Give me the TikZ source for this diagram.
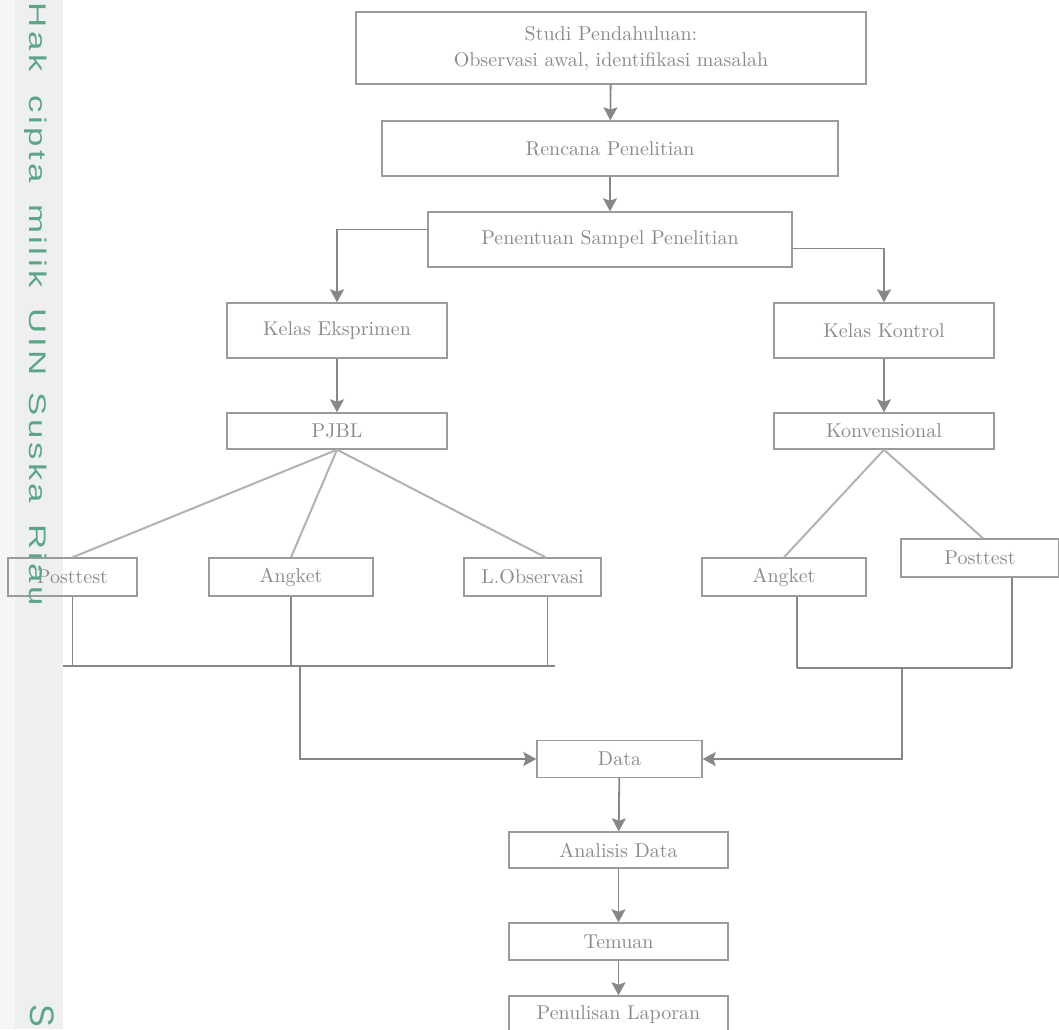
\documentclass[tikz,border=0pt]{standalone}
\usepackage{fontspec}
\newfontfamily\sideFont[LetterSpace=10]{Liberation Sans}
\usetikzlibrary{arrows.meta, positioning, calc}
\definecolor{boxgray}{RGB}{155,155,155}
\definecolor{txtgray}{RGB}{138,138,138}
\definecolor{arrgray}{RGB}{135,135,135}
\definecolor{leafgray}{RGB}{178,178,178}
\definecolor{stripgray}{RGB}{238,239,241}
\definecolor{stripedge}{RGB}{246,246,247}
\definecolor{suskagreen}{RGB}{92,165,135}
\newcommand{\sidetext}[1]{\scalebox{1.45}[1]{#1}}

\begin{document}
\begin{tikzpicture}[x=0.5pt, y=-0.5pt]
            \tikzstyle{block} = [rectangle, draw=boxgray, line width=0.7pt, text=txtgray, inner sep=0pt, align=center, font=\fontsize{10}{13}\selectfont]
            \tikzstyle{arrow} = [line width=0.9pt, arrgray, -{Stealth[length=6.5pt, width=7pt, inset=1.2pt]}]
            \tikzstyle{link} = [line width=0.65pt, arrgray]
            \tikzstyle{leaf} = [line width=1pt, leafgray]
            \tikzstyle{vtext} = [rotate=-90, anchor=base, inner sep=0pt, text=suskagreen, font=\sideFont\fontsize{12}{12}\selectfont]

            \useasboundingbox (0,0) rectangle (1059,1029);
            \clip (0,0) rectangle (1059,1029);
            \fill[stripgray] (0,0) rectangle (63,1029);
            \fill[stripedge] (0,0) rectangle (15,1029);

            % alur utama
            \node[block, minimum width=255pt, minimum height=36pt] (studi) at (611,48) {Studi Pendahuluan:\\Observasi awal, identifikasi masalah};
            \node[block, minimum width=228pt, minimum height=27.5pt] (rencana) at (610,148.5) {Rencana Penelitian};
            \node[block, minimum width=182pt, minimum height=27.5pt] (sampel) at (610,239.5) {Penentuan Sampel Penelitian};
            \node[block, minimum width=110pt, minimum height=27.5pt] (eksp) at (337,330.5) {Kelas Eksprimen};
            \node[block, minimum width=110pt, minimum height=27.5pt] (kontrol) at (884,330.5) {Kelas Kontrol};
            \node[block, minimum width=110pt, minimum height=18pt] (pjbl) at (337,431) {PJBL};
            \node[block, minimum width=110pt, minimum height=18pt] (konv) at (884,431) {Konvensional};

            % instrumen
            \node[block, minimum width=64.5pt, minimum height=19pt] (postE) at (72.5,577) {Posttest};
            \node[block, minimum width=82pt, minimum height=19pt] (angE) at (291,577) {Angket};
            \node[block, minimum width=68.5pt, minimum height=19pt] (obsE) at (532.5,577) {L.Observasi};
            \node[block, minimum width=82pt, minimum height=19pt] (angK) at (784,577) {Angket};
            \node[block, minimum width=79pt, minimum height=19pt] (postK) at (980,558) {Posttest};

            \node[block, minimum width=82.5pt, minimum height=18.5pt] (data) at (619.5,759) {Data};
            \node[block, minimum width=109.5pt, minimum height=18pt] (analisis) at (618.5,850) {Analisis Data};
            \node[block, minimum width=109.5pt, minimum height=18.5pt] (temuan) at (618.5,941.5) {Temuan};
            \node[block, minimum width=109.5pt, minimum height=18.5pt] (laporan) at (618.5,1014.5) {Penulisan Laporan};

            \coordinate (jl) at (300,666);
            \coordinate (jr) at (902,668);

            \draw[arrow] (studi) -- (rencana);
            \draw[arrow] (rencana) -- (sampel);
            \draw[arrow] ($(sampel.west)+(0,-10)$) -| (eksp.north);
            \draw[arrow] ($(sampel.east)+(0,9)$) -| (kontrol.north);
            \draw[arrow] (eksp) -- (pjbl);
            \draw[arrow] (kontrol) -- (konv);

            \draw[leaf] (pjbl.south) -- (postE.north);
            \draw[leaf] (pjbl.south) -- (angE.north);
            \draw[leaf] (pjbl.south) -- ($(obsE.north)+(13,0)$);
            \draw[leaf] (konv.south) -- (angK.north);
            \draw[leaf] (konv.south) -- ($(postK.north)+(3,0)$);

            \draw[link] (postE.south) -- (postE.south |- jl);
            \draw[link] (angE.south) -- (angE.south |- jl);
            \draw[link] ($(obsE.south)+(15,0)$) -- ($(obsE.south |- jl)+(15,0)$);
            \draw[link] ($(jl)+(-237,0)$) -- ($(jl)+(255,0)$);
            \draw[link] ($(angK.south)+(13,0)$) -- ($(angK.south |- jr)+(13,0)$);
            \draw[link] ($(postK.south)+(32,0)$) -- ($(postK.south |- jr)+(32,0)$);
            \draw[link] ($(jr)+(-105,0)$) -- ($(jr)+(110,0)$);

            \draw[arrow] (jl) |- (data.west);
            \draw[arrow] (jr) |- (data.east);
            \draw[arrow] (data) -- (analisis);
            \draw[arrow] (analisis) -- (temuan);
            \draw[arrow] (temuan) -- (laporan);

            % teks samping
            \node[vtext] (hak) at (29,37) {\sidetext{Hak}};
            \node[vtext] (cipta) at (29,139) {\sidetext{cipta}};
            \node[vtext] (milik) at (29,246) {\sidetext{milik}};
            \node[vtext] (uin) at (29,342) {\sidetext{UIN}};
            \node[vtext] (suska) at (29,448) {\sidetext{Suska}};
            \node[vtext] (riau) at (29,565) {\sidetext{Riau}};
            \node[vtext, font=\sideFont\fontsize{17}{17}\selectfont] (sisa) at (30,1016) {S};
\end{tikzpicture}
\end{document}
